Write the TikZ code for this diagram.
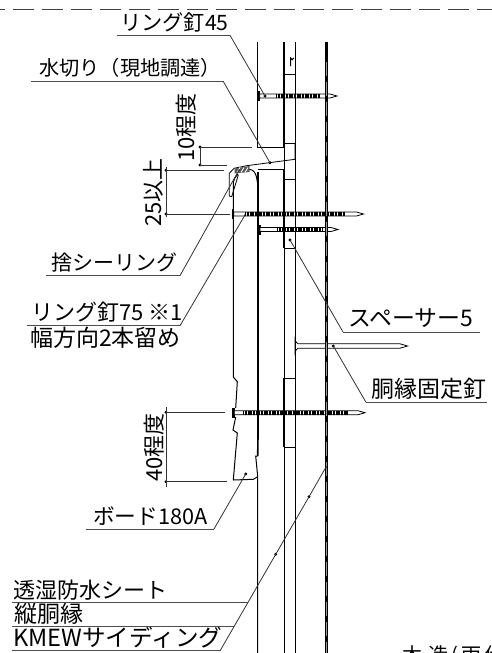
\documentclass[tikz,border=0pt]{standalone}
\usepackage{fontspec}
\setmainfont{Noto Sans CJK JP}
\usepackage{tikz}
\tikzset{
  lbl/.style={anchor=base west,inner sep=0pt,font=\fontsize{#1}{#1}\selectfont},
  lbl/.default=21.5,
  vlbl/.style={lbl=22,rotate=90},
  leader/.style={black!80,line width=0.8pt},
  under/.style={black!70,line width=1pt},
  dimline/.style={black!80,line width=0.8pt},
  dot/.style={circle,fill=black,inner sep=0pt,minimum size=3.2pt},
  wall/.style={black,line width=1pt},
  wallthick/.style={black,line width=1.6pt}
}
% ring nail: y, head x, hatch start, hatch end, tip x
\newcommand{\ringnail}[5]{
  \fill[black] (#2,#1-5) rectangle (#2+2.6,#1+5);
  \draw[black,line width=0.8pt,fill=white] (#2+2,#1-2) -- (#5-7,#1-2) -- (#5,#1) -- (#5-7,#1+2) -- (#2+2,#1+2) -- cycle;
  \draw[black,line width=4pt,dash pattern=on 1.1pt off 0.5pt] (#3,#1) -- (#4,#1);
}
\begin{document}
\begin{tikzpicture}[x=1pt,y=-1pt]
    \useasboundingbox (0,0) rectangle (492,653);
    \clip (0,0) rectangle (492,653);
    % top break line
    \draw[black!75,line width=1pt,dash pattern=on 21pt off 8pt] (-16,9.5) -- (492,9.5);
    % nails
    \ringnail{96}{257.7}{276}{320}{337}
    \ringnail{214}{231.7}{245}{345}{363.5}
    \ringnail{229.5}{258}{277}{322}{338}
    \ringnail{412.7}{232.3}{243}{348}{365}
    % smooth nail
    \draw[black,line width=0.8pt,fill=white] (295,339) -- (296,342) to[out=0,in=180] (298,343.8) -- (400,343.8) -- (407.5,346) -- (400,348.2) -- (298,348.2) to[out=180,in=0] (296,350) -- (295,353) -- cycle;
    % upper siding
    \draw[wall] (257.7,42) -- (257.7,147) -- (284,147);
    \draw[wallthick] (284,42) -- (284,147);
    % batten line and spacers
    \draw[wall] (295,42) -- (295,653);
    \draw[wall] (284,147) -- (284,653);
    \draw[wall] (284,74) rectangle (295,143);
    \draw[wall] (284,179) rectangle (295,248);
    \draw[wall] (284,378) rectangle (295,447);
    \draw[wall] (290.7,66) -- (290.7,58) arc[start angle=180,end angle=0,radius=1.6];
    % lower siding
    \draw[wallthick] (284,169) -- (284,248);
    \draw[wallthick] (284,378) -- (284,447);
    \draw[wall] (258,169) -- (284,169);
    \draw[wallthick] (258,172) -- (258,436) -- (257.7,456);
    \draw[wall] (257.7,456) -- (255.7,456) -- (257.7,476.7) -- (257.7,653);
    \draw[wall] (238,174) to[out=-120,in=90] (233.3,182) -- (233.3,377) -- (237.3,381.7) -- (235.7,408);
    \draw[wall] (235.7,417) -- (233,430) -- (237.3,433) -- (233.3,480) -- (253.3,479.3) -- (257.7,476.7);
    \draw[wall] (249,169.3) to[out=0,in=100] (256.7,178) -- (258,186);
    % flashing
    \draw[black,line width=0.8pt] (295,143) -- (295,159.3) -- (246.7,165.7) -- (234,168.3) -- (229.3,173.3) -- (229.3,196) -- (231.7,196.7) -- (238.3,175);
    % sealant
    \fill[black!65] (234.5,168.5) -- (249.5,166) -- (249.5,172) -- (234.5,173.5) -- cycle;
    \foreach \sx in {237,241,245}
      \draw[white,line width=0.9pt] (\sx,172.5) -- (\sx+3,167.5);
    % sheathing
    \draw[black,line width=2.8pt] (326.7,42) -- (326.7,653);
    \draw[black!40,line width=0.5pt,dash pattern=on 14pt off 6pt] (326.7,62) -- (326.7,653);
    % dim 10
    \node[dot] (dimTenA) at (200,147) {};
    \node[dot] (dimTenB) at (200,165) {};
    \coordinate (extTenA) at (252,147);
    \coordinate (extTenB) at (227,165);
    \draw[dimline] (extTenA) -- (dimTenA.center) -- (dimTenB.center) -- (extTenB);
    \node[vlbl] (lblTen) at (194,162) {10程度};
    % dim 25
    \node[dot] (dimQuarterA) at (166,170.3) {};
    \node[dot] (dimQuarterB) at (166,214) {};
    \coordinate (extQuarterA) at (224,170.3);
    \coordinate (extQuarterB) at (230,214);
    \draw[dimline] (extQuarterA) -- (dimQuarterA.center) -- (dimQuarterB.center) -- (extQuarterB);
    \draw[dimline] (166,167) -- (dimQuarterA.center);
    \draw[dimline] (166,217) -- (dimQuarterB.center);
    \node[vlbl] (lblQuarter) at (161,227) {25以上};
    % dim 40
    \node[dot] (dimFortyA) at (166,412.3) {};
    \node[dot] (dimFortyB) at (166,481.7) {};
    \coordinate (extFortyA) at (225,412.3);
    \coordinate (extFortyB) at (227,481.7);
    \draw[dimline] (extFortyA) -- (dimFortyA.center) -- (dimFortyB.center) -- (extFortyB);
    \draw[dimline] (166,407) -- (dimFortyA.center);
    \draw[dimline] (166,487) -- (dimFortyB.center);
    \node[vlbl] (lblForty) at (162,482) {40程度};
    % labels
    \node[lbl=21.2] (lblNailA) at (120,30.5) {リング釘45};
    \node[lbl=20.2] (lblFlash) at (39,75.5) {水切り（現地調達）};
    \node[lbl=21] (lblSeal) at (51,270.5) {捨シーリング};
    \node[lbl=22] (lblNailB) at (31,320.5) {リング釘75 ※1};
    \node[lbl=23] (lblNailC) at (30,346.5) {幅方向2本留め};
    \node[lbl=22.9] (lblSpacer) at (348,326.5) {スペーサー5};
    \node[lbl=23] (lblFixNail) at (371,397.5) {胴縁固定釘};
    \node[lbl=21.7] (lblBoard) at (93,524.5) {ボード180A};
    \node[lbl=22] (lblSheet) at (13,598.5) {透湿防水シート};
    \node[lbl=23] (lblBatten) at (14,622.5) {縦胴縁};
    \node[lbl=23.6] (lblSiding) at (13,646.5) {KMEWサイディング};
    \node[lbl=20] (lblWood) at (402,662.6) {木\hspace{6pt}造\hspace{3pt}(\hspace{4pt}雨\hspace{3pt}仕};
    % leaders
    \node[dot] (dotNailA) at (265,96) {};
    \coordinate (nailAl) at (117,35.3);
    \coordinate (nailAr) at (230,35.3);
    \draw[under] (nailAl) -- (nailAr);
    \draw[leader] (nailAr) -- (dotNailA.center);
    \node[dot] (dotFlash) at (270,162.7) {};
    \coordinate (flashl) at (31,81);
    \coordinate (flashr) at (223,81);
    \draw[under] (flashl) -- (flashr);
    \draw[leader] (flashr) -- (dotFlash.center);
    \node[dot,minimum size=1.5pt] (dotSeal) at (239,170) {};
    \coordinate (seall) at (46,275.7);
    \coordinate (sealr) at (180,275.7);
    \draw[under] (seall) -- (sealr);
    \draw[leader] (sealr) -- (dotSeal.center);
    \node[dot,minimum size=2pt] (dotNailB) at (245,215) {};
    \coordinate (nailBl) at (27,325.7);
    \coordinate (nailBr) at (180,325.7);
    \draw[under] (nailBl) -- (nailBr);
    \draw[leader] (nailBr) -- (dotNailB.center);
    \node[dot] (dotSpacer) at (290,240) {};
    \coordinate (spacerl) at (343,332);
    \coordinate (spacerr) at (480,332);
    \draw[under] (spacerr) -- (spacerl);
    \draw[leader] (spacerl) -- (dotSpacer.center);
    \node[dot] (dotFixNail) at (333.3,346) {};
    \coordinate (fixl) at (366,402.3);
    \coordinate (fixr) at (487,402.3);
    \draw[under] (fixr) -- (fixl);
    \draw[leader] (fixl) -- (dotFixNail.center);
    \node[dot] (dotBoard) at (245.7,474) {};
    \coordinate (boardl) at (86,529);
    \coordinate (boardr) at (214,529);
    \draw[under] (boardl) -- (boardr);
    \draw[leader] (boardr) -- (dotBoard.center);
    % three layers
    \node[dot,minimum size=2pt] (dotSiding) at (326,467) {};
    \node[dot] (dotBatten) at (309,496.8) {};
    \node[dot] (dotSheet) at (275.7,554.3) {};
    \coordinate (sheetl) at (12,602.7);
    \coordinate (sheetr) at (248,602.7);
    \coordinate (battenl) at (12,626.7);
    \coordinate (battenr) at (234,626.7);
    \coordinate (sidingl) at (12,650.9);
    \coordinate (sidingr) at (220,650.9);
    \draw[under] (sheetl) -- (sheetr);
    \draw[under] (battenl) -- (battenr);
    \draw[under] (sidingl) -- (sidingr);
    \draw[leader] (sidingr) -- (dotSheet.center) -- (dotBatten.center) -- (dotSiding.center);
\end{tikzpicture}
\end{document}
